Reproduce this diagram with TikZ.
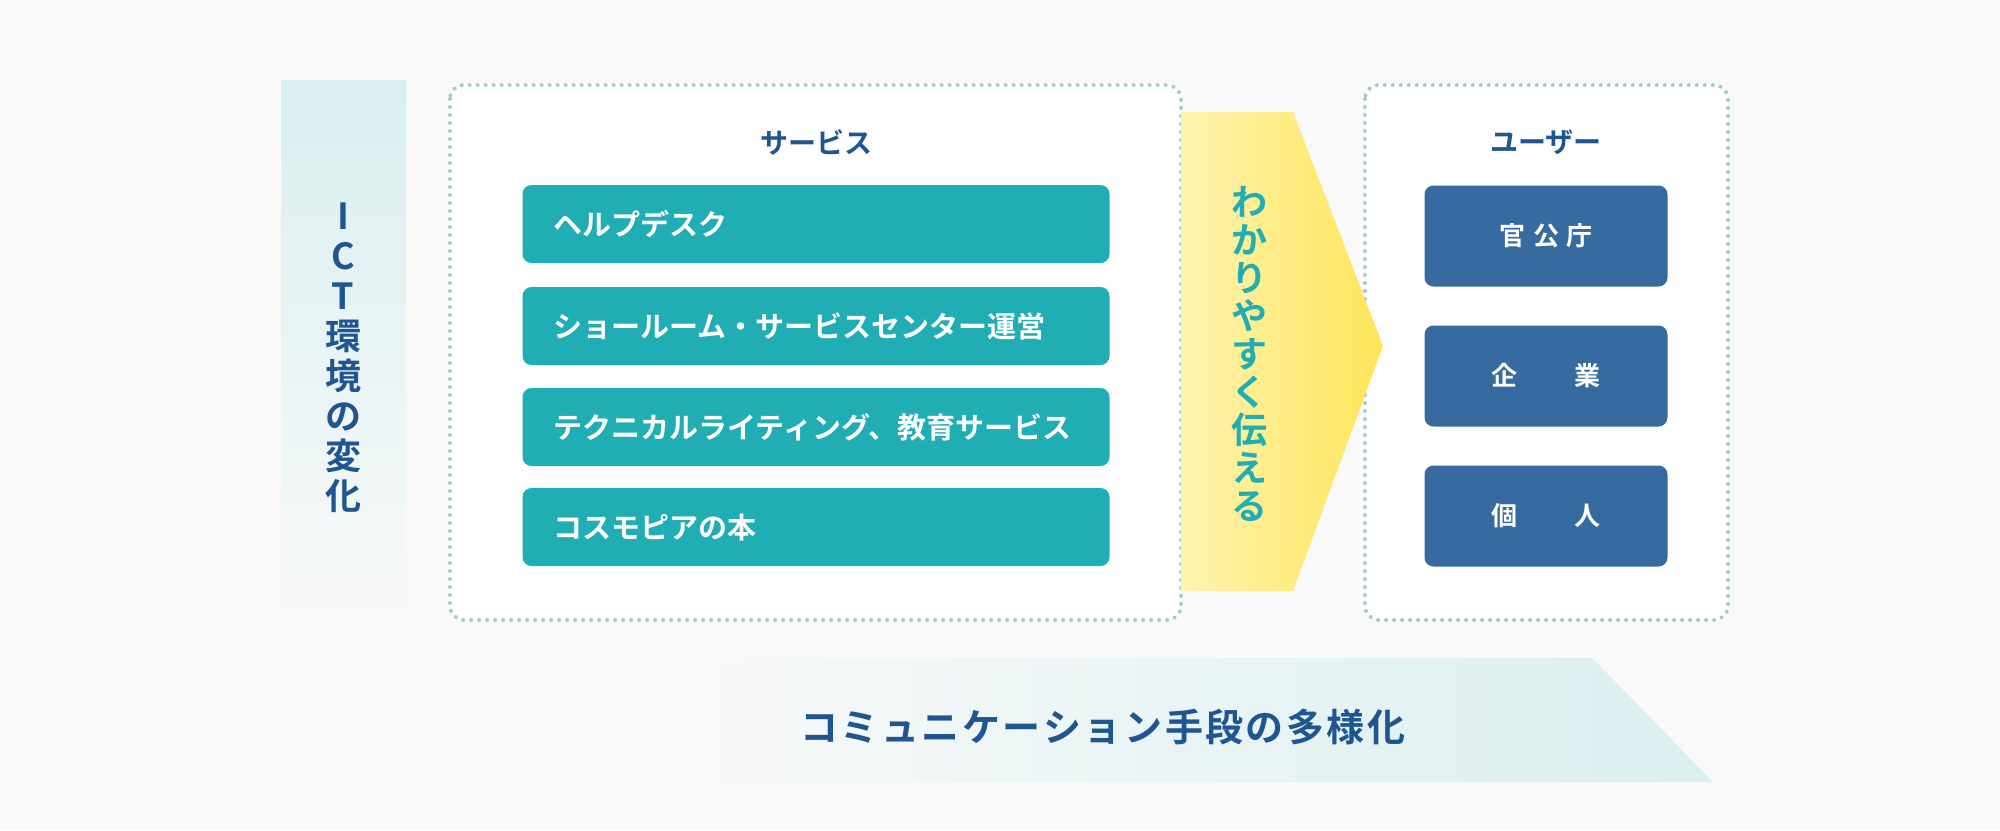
\documentclass[tikz,border=0pt]{standalone}
\usepackage{fontspec}
\setmainfont{Noto Sans CJK JP}[BoldFont={* Bold}]
\newfontfamily\jpbold{Noto Sans CJK JP Bold}
\usetikzlibrary{positioning}
\definecolor{bgc}{HTML}{F9F9F9}
\definecolor{paleteal}{HTML}{DAEFF0}
\definecolor{dotc}{HTML}{A3CBCB}
\definecolor{itemc}{HTML}{20ADB3}
\definecolor{userc}{HTML}{376B9F}
\definecolor{navy}{HTML}{1F5591}
\definecolor{lightyel}{HTML}{FFF3B0}
\definecolor{deepyel}{HTML}{FFE55A}
\tikzset{
  panel/.style={draw=dotc,line width=4pt,dash pattern=on 0pt off 8pt,line cap=round,rounded corners=14pt,fill=white},
  item/.style={fill=itemc,rounded corners=9pt,minimum width=587pt,minimum height=78pt,text=white,font=\jpbold\fontsize{29}{29}\selectfont,text width=525pt,align=left},
  useritem/.style={fill=userc,rounded corners=9pt,minimum width=243pt,minimum height=101pt,text=white,font=\jpbold\fontsize{26}{26}\selectfont},
  heading/.style={text=navy,font=\jpbold\fontsize{28}{28}\selectfont}
}
\begin{document}
\begin{tikzpicture}[x=1pt,y=-1pt]
\fill[bgc] (0,0) rectangle (2000,830);
\useasboundingbox (0,0) rectangle (2000,830);
% ICT band
\shade[top color=paleteal,bottom color=bgc] (281,80) rectangle (406,638);
\node (ict) [text=navy,font=\jpbold\fontsize{36}{40}\selectfont,align=center] at (343,358)
  {I\\C\\T\\環\\境\\の\\変\\化};
% bottom band
\shade[left color=bgc,right color=paleteal] (663,658) -- (1592,658) -- (1713,782) -- (663,782) -- cycle;
\node (comm) [text=navy,font=\jpbold\fontsize{38}{38}\selectfont] at (1103,727)
  {コ\hspace{2.5pt}ミ\hspace{2.5pt}ュ\hspace{2.5pt}ニ\hspace{2.5pt}ケ\hspace{2.5pt}ー\hspace{2.5pt}シ\hspace{2.5pt}ョ\hspace{2.5pt}ン\hspace{2.5pt}手\hspace{2.5pt}段\hspace{2.5pt}の\hspace{2.5pt}多\hspace{2.5pt}様\hspace{2.5pt}化};
% panels
\draw[panel] (450,85) rectangle (1181,620);
\draw[panel] (1365,85) rectangle (1728,620);
% arrow
\shade[left color=lightyel,right color=deepyel] (1181,112) -- (1293,112) -- (1383,346) -- (1293,591) -- (1181,591) -- cycle;
\node (easy) [text=itemc,font=\jpbold\fontsize{36}{38}\selectfont,align=center] at (1249,354)
  {わ\\か\\り\\や\\す\\く\\伝\\え\\る};
% services
\node (svc) [heading] at (816,142) {サービス};
\node (s1) [item] at (816,224) {ヘルプデスク};
\node (s2) [item] at (816,326) {ショールーム・サービスセンター運営};
\node (s3) [item] at (816,427) {テクニカルライティング、教育サービス};
\node (s4) [item] at (816,527) {コスモピアの本};
% users
\node (usr) [heading] at (1546,142) {ユーザー};
\node (u1) [useritem] at (1546,236) {官\hspace{0.3em}公\hspace{0.3em}庁};
\node (u2) [useritem] at (1546,376) {企\hspace{2.2em}業};
\node (u3) [useritem] at (1546,516) {個\hspace{2.2em}人};
\end{tikzpicture}
\end{document}
